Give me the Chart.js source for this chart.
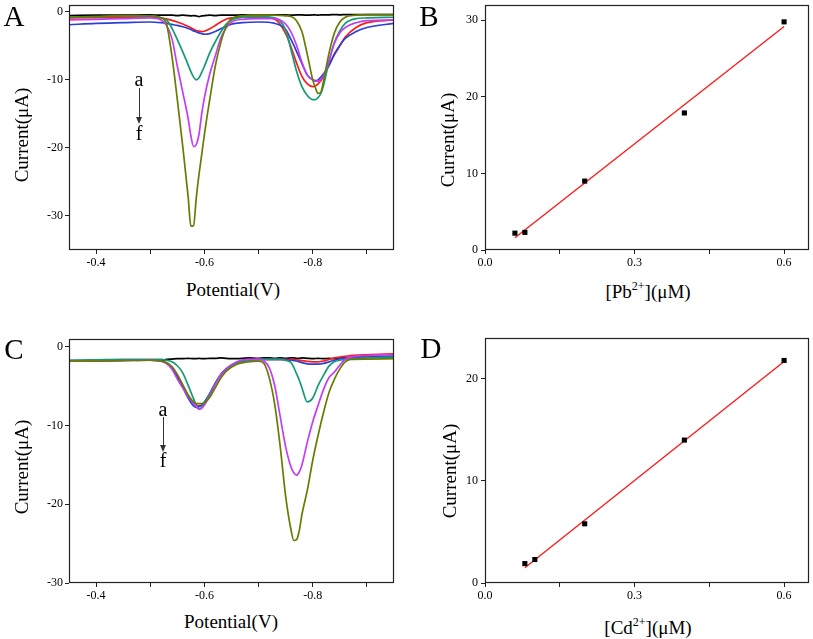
<!DOCTYPE html>
<html>
<head>
<meta charset="utf-8">
<title>Stripping voltammograms and calibration</title>
<script src="https://cdn.jsdelivr.net/npm/chart.js@4.4.1/dist/chart.umd.min.js"></script>
<style>
  body { margin: 0; width: 813px; height: 639px; position: relative; overflow: hidden; background: #fff;
         font-family: "Liberation Serif", "Times New Roman", serif; color: #000; }
  canvas { position: absolute; }
  .txt { position: absolute; white-space: nowrap; line-height: 1; transform: translate(-50%, -50%); }
  .letter { font-size: 29px; }
  .title { font-size: 19px; }
  .ytitle { transform: translate(-50%, -50%) rotate(-90deg); }
  .mark { font-size: 20px; }
  .stem { position: absolute; width: 1px; background: #333; }
  .head { position: absolute; width: 0; height: 0; border-left: 3px solid transparent;
          border-right: 3px solid transparent; border-top: 7px solid #333; }
  .sup { font-size: 12px; position: relative; top: -8px; }
</style>
</head>
<body>
<canvas id="chartA" width="405" height="275" style="left:0;top:0"></canvas>
<canvas id="chartB" width="403" height="275" style="left:410px;top:0"></canvas>
<canvas id="chartC" width="405" height="290" style="left:0;top:320px"></canvas>
<canvas id="chartD" width="403" height="290" style="left:410px;top:320px"></canvas>

<div class="txt letter" style="left:14px;top:16px">A</div>
<div class="txt letter" style="left:429px;top:16px">B</div>
<div class="txt letter" style="left:14px;top:349px">C</div>
<div class="txt letter" style="left:431px;top:348px">D</div>

<div class="txt title ytitle" style="left:21px;top:135px">Current(μA)</div>
<div class="txt title ytitle" style="left:447px;top:140px">Current(μA)</div>
<div class="txt title ytitle" style="left:21px;top:467px">Current(μA)</div>
<div class="txt title ytitle" style="left:449px;top:471px">Current(μA)</div>

<div class="txt title" style="left:233px;top:289px">Potential(V)</div>
<div class="txt title" style="left:648px;top:291px">[Pb<span class="sup">2+</span>](μM)</div>
<div class="txt title" style="left:231px;top:621px">Potential(V)</div>
<div class="txt title" style="left:648px;top:627px">[Cd<span class="sup">2+</span>](μM)</div>

<div class="txt mark" style="left:139px;top:79px">a</div>
<div class="stem" style="left:139px;top:88px;height:30px"></div>
<div class="head" style="left:136px;top:117px"></div>
<div class="txt mark" style="left:139px;top:133px">f</div>

<div class="txt mark" style="left:163px;top:409px">a</div>
<div class="stem" style="left:163px;top:417px;height:29px"></div>
<div class="head" style="left:160px;top:445px"></div>
<div class="txt mark" style="left:163px;top:460px">f</div>

<script>
// ---- panel A: Pb/Cd stripping curves, Pb varied ----
const potentialA = [-0.35, -0.40, -0.45, -0.50, -0.52, -0.53, -0.54, -0.55, -0.56, -0.57, -0.575, -0.58, -0.585, -0.59, -0.595, -0.60, -0.61, -0.62, -0.63, -0.64, -0.65, -0.67, -0.70, -0.73, -0.75, -0.76, -0.77, -0.78, -0.79, -0.80, -0.805, -0.81, -0.815, -0.82, -0.83, -0.84, -0.85, -0.86, -0.88, -0.90, -0.95];
const currentA_a = [-0.55, -0.5, -0.5, -0.45, -0.5, -0.5, -0.5, -0.55, -0.5, -0.55, -0.6, -0.55, -0.6, -0.7, -0.6, -0.55, -0.5, -0.55, -0.5, -0.5, -0.5, -0.45, -0.5, -0.45, -0.45, -0.5, -0.45, -0.45, -0.5, -0.45, -0.45, -0.5, -0.45, -0.45, -0.45, -0.4, -0.45, -0.4, -0.4, -0.4, -0.4];
const currentA_b = [-0.9, -0.85, -0.8, -0.75, -0.9, -1.05, -1.25, -1.5, -1.8, -2.15, -2.35, -2.55, -2.75, -2.85, -2.9, -2.85, -2.5, -2.0, -1.5, -1.1, -0.9, -0.8, -0.8, -1.1, -3.2, -5.2, -7.5, -9.5, -10.6, -11.0, -10.9, -10.6, -10.1, -9.5, -7.8, -6.3, -5.0, -3.7, -2.3, -1.6, -1.2];
const currentA_c = [-1.9, -1.7, -1.6, -1.5, -1.6, -1.7, -1.85, -2.0, -2.2, -2.45, -2.6, -2.8, -2.95, -3.1, -3.2, -3.3, -3.2, -2.9, -2.5, -2.1, -1.8, -1.6, -1.5, -1.7, -2.6, -4.1, -5.8, -7.6, -9.3, -10.0, -10.1, -10.0, -9.6, -9.1, -7.9, -6.2, -4.9, -3.9, -2.9, -2.3, -1.7];
const currentA_d = [-0.8, -0.7, -0.6, -0.6, -0.9, -1.2, -2.4, -4.1, -5.9, -7.8, -8.8, -9.6, -10.0, -9.7, -8.9, -8.0, -6.0, -4.4, -3.0, -1.85, -1.2, -0.8, -0.7, -0.9, -2.7, -5.6, -8.7, -11.0, -12.3, -12.9, -12.9, -12.6, -12.0, -10.8, -7.3, -4.5, -2.8, -1.7, -1.0, -0.9, -0.8];
const currentA_e = [-1.2, -1.1, -1.0, -0.9, -1.2, -2.0, -3.9, -8.0, -11.8, -15.7, -18.2, -19.8, -19.5, -18.0, -15.0, -12.6, -9.1, -6.5, -3.9, -2.4, -1.5, -1.1, -1.0, -1.0, -1.8, -3.0, -4.9, -7.4, -9.3, -10.0, -10.2, -10.2, -9.9, -9.4, -7.2, -4.6, -3.1, -2.3, -1.6, -1.3, -1.2];
const currentA_f = [-0.8, -0.7, -0.6, -0.6, -0.9, -1.8, -6.5, -12.9, -19.8, -27.2, -31.5, -31.4, -27.3, -23.9, -21.0, -18.0, -12.8, -8.0, -4.6, -2.2, -1.0, -0.6, -0.5, -0.5, -0.6, -0.7, -1.3, -2.9, -6.3, -10.0, -11.2, -12.0, -11.8, -10.1, -6.1, -3.1, -1.5, -0.8, -0.5, -0.4, -0.4];

// ---- panel C: Cd varied ----
const potentialC = [-0.35, -0.40, -0.45, -0.50, -0.52, -0.53, -0.54, -0.55, -0.56, -0.57, -0.58, -0.585, -0.59, -0.595, -0.60, -0.61, -0.62, -0.63, -0.64, -0.66, -0.68, -0.70, -0.71, -0.72, -0.73, -0.74, -0.75, -0.76, -0.765, -0.77, -0.775, -0.78, -0.79, -0.80, -0.81, -0.82, -0.83, -0.84, -0.85, -0.86, -0.87, -0.90, -0.95];
const currentC_a = [-1.75, -1.7, -1.7, -1.7, -1.7, -1.6, -1.55, -1.5, -1.5, -1.45, -1.5, -1.5, -1.45, -1.5, -1.5, -1.45, -1.45, -1.4, -1.45, -1.5, -1.4, -1.45, -1.4, -1.4, -1.45, -1.4, -1.45, -1.4, -1.4, -1.45, -1.45, -1.4, -1.45, -1.5, -1.45, -1.5, -1.45, -1.5, -1.45, -1.4, -1.35, -1.3, -1.2];
const currentC_b = [-1.8, -1.75, -1.7, -1.7, -1.8, -2.1, -2.7, -3.8, -5.0, -6.2, -7.1, -7.4, -7.5, -7.4, -7.1, -6.0, -4.7, -3.6, -2.9, -2.0, -1.7, -1.6, -1.6, -1.6, -1.6, -1.6, -1.6, -1.6, -1.6, -1.65, -1.7, -1.75, -1.85, -1.9, -1.9, -1.8, -1.6, -1.4, -1.3, -1.2, -1.1, -1.0, -0.9];
const currentC_c = [-1.8, -1.75, -1.7, -1.7, -1.8, -2.1, -2.7, -3.8, -5.1, -6.5, -7.5, -7.7, -7.6, -7.4, -7.0, -5.9, -4.6, -3.5, -2.8, -2.0, -1.7, -1.6, -1.6, -1.6, -1.6, -1.6, -1.65, -1.7, -1.75, -1.8, -1.9, -2.0, -2.15, -2.2, -2.2, -2.1, -1.9, -1.7, -1.5, -1.4, -1.35, -1.3, -1.2];
const currentC_d = [-1.7, -1.65, -1.6, -1.6, -1.6, -1.7, -1.9, -2.4, -3.3, -4.9, -6.6, -7.4, -7.9, -7.7, -7.2, -6.0, -4.7, -3.6, -2.9, -2.0, -1.7, -1.6, -1.6, -1.6, -1.6, -1.6, -1.7, -2.0, -2.6, -3.4, -4.2, -5.2, -7.0, -6.5, -4.9, -3.6, -2.45, -1.9, -1.7, -1.6, -1.5, -1.4, -1.3];
const currentC_e = [-1.8, -1.8, -1.75, -1.7, -1.8, -2.1, -2.8, -4.1, -5.2, -6.3, -7.2, -7.6, -7.9, -7.8, -7.4, -6.2, -4.8, -3.6, -2.8, -1.9, -1.6, -1.6, -1.8, -2.7, -5.0, -8.9, -12.7, -15.3, -16.0, -16.3, -15.9, -15.0, -12.1, -9.5, -7.4, -5.4, -3.9, -3.2, -2.3, -1.6, -1.3, -1.1, -1.0];
const currentC_f = [-1.8, -1.8, -1.75, -1.7, -1.8, -2.0, -2.5, -3.5, -4.8, -6.1, -7.0, -7.2, -7.2, -7.2, -7.1, -6.4, -5.2, -4.0, -3.1, -2.2, -1.9, -1.8, -2.1, -4.0, -7.4, -12.7, -19.0, -23.3, -24.6, -24.5, -23.4, -21.3, -18.2, -14.4, -11.2, -8.3, -5.8, -4.1, -2.8, -1.9, -1.6, -1.55, -1.5];

// ---- calibration panels B and D ----
const pbConc = [0.06, 0.08, 0.2, 0.4, 0.6];
const pbCurrent = [2.2, 2.3, 9.0, 17.9, 29.8];
const pbFitConc = [0.06, 0.6];
const pbFitCurrent = [1.6, 29.2];
const cdConc = [0.08, 0.1, 0.2, 0.4, 0.6];
const cdCurrent = [1.9, 2.3, 5.8, 14.0, 21.8];
const cdFitConc = [0.08, 0.6];
const cdFitCurrent = [1.5, 21.7];

// ---- ticks ----
const potentialTicks = [-0.4, -0.5, -0.6, -0.7, -0.8, -0.9];
const potentialTickLabels = ['-0.4', '', '-0.6', '', '-0.8', ''];
const concTicks = [0, 0.15, 0.3, 0.45, 0.6];
const concTickLabels = ['0.0', '', '0.3', '', '0.6'];
const currentTicksAC = [0, -10, -20, -30];
const currentTicksB = [0, 10, 20, 30];
const currentTicksD = [0, 10, 20];

const curveColors = ['#000000', '#ff1a1a', '#2b3fd6', '#159a78', '#c63cf5', '#687c00'];

Chart.defaults.font.family = '"Liberation Serif", "Times New Roman", serif';
const tickFont = { size: 12 };

const framePlugin = {
    id: 'frame',
    afterDraw(chart) {
        const { ctx, chartArea: a } = chart;
        ctx.save();
        ctx.strokeStyle = '#222';
        ctx.lineWidth = 1.2;
        ctx.strokeRect(Math.round(a.left) + 0.5, Math.round(a.top) + 0.5,
                       Math.round(a.right - a.left) - 1, Math.round(a.bottom - a.top) - 1);
        ctx.restore();
    }
};

function zeroPad(s) {
    s.paddingLeft = 0; s.paddingRight = 0; s.paddingTop = 0; s.paddingBottom = 0;
}

function axis(min, max, tickValues, tickLabels, opts) {
    return {
        type: 'linear', min, max, reverse: !!opts.reverse,
        afterBuildTicks: (s) => { s.ticks = tickValues.map((v) => ({ value: v })); },
        afterFit: (s) => {
            if (opts.width !== undefined) s.width = opts.width;
            if (opts.height !== undefined) s.height = opts.height;
            zeroPad(s);
        },
        ticks: {
            autoSkip: false, maxRotation: 0, minRotation: 0,
            padding: opts.pad ?? 2, color: '#000', font: tickFont,
            callback: (v, i) => tickLabels[i],
        },
        grid: { drawOnChartArea: false, drawTicks: true, tickLength: 4, color: '#222', lineWidth: 1 },
        border: { display: false },
    };
}

function baseOptions(padding, scales) {
    return {
        responsive: false, animation: false, devicePixelRatio: 1,
        layout: { padding },
        plugins: { legend: { display: false }, tooltip: { enabled: false } },
        scales,
    };
}

function spectrumChart(id, potentials, curves, yMin, yMax, padTop, xHeight) {
    const datasets = curves.map((values, i) => ({
        data: potentials.map((p, k) => ({ x: p, y: values[k] })),
        borderColor: curveColors[i],
        borderWidth: 1.7,
        pointRadius: 0,
        fill: false,
        cubicInterpolationMode: 'monotone',
        order: curves.length - i,
    }));
    return new Chart(document.getElementById(id), {
        type: 'line',
        data: { datasets },
        options: baseOptions({ left: 0, top: padTop, right: 11, bottom: 0 }, {
            x: axis(-0.95, -0.35, potentialTicks, potentialTickLabels, { reverse: true, height: xHeight }),
            y: axis(yMin, yMax, currentTicksAC, currentTicksAC.map(String), { width: 69 }),
        }),
        plugins: [framePlugin],
    });
}

function calibrationChart(id, conc, current, fitConc, fitCurrent, yMax, yTicks, padTop, xHeight) {
    return new Chart(document.getElementById(id), {
        type: 'scatter',
        data: {
            datasets: [
                {
                    data: conc.map((c, k) => ({ x: c, y: current[k] })),
                    pointStyle: 'rect', pointRadius: 3.6,
                    backgroundColor: '#000', borderColor: '#000', borderWidth: 0,
                    order: 0,
                },
                {
                    type: 'line',
                    data: fitConc.map((c, k) => ({ x: c, y: fitCurrent[k] })),
                    borderColor: '#ff1a1a', borderWidth: 1.4, pointRadius: 0, fill: false,
                    order: 1,
                },
            ],
        },
        options: baseOptions({ left: 0, top: padTop, right: 3, bottom: 0 }, {
            x: axis(0, 0.65, concTicks, concTickLabels, { height: xHeight }),
            y: axis(0, yMax, yTicks, yTicks.map(String), { width: 75, pad: 3 }),
        }),
        plugins: [framePlugin],
    });
}

spectrumChart('chartA', potentialA,
    [currentA_a, currentA_b, currentA_c, currentA_d, currentA_e, currentA_f], -35, 1, 5, 25);
spectrumChart('chartC', potentialC,
    [currentC_a, currentC_b, currentC_c, currentC_d, currentC_e, currentC_f], -30, 1, 19, 27);
calibrationChart('chartB', pbConc, pbCurrent, pbFitConc, pbFitCurrent, 32, currentTicksB, 5, 25);
calibrationChart('chartD', cdConc, cdCurrent, cdFitConc, cdFitCurrent, 24, currentTicksD, 18, 27);
</script>
</body>
</html>
